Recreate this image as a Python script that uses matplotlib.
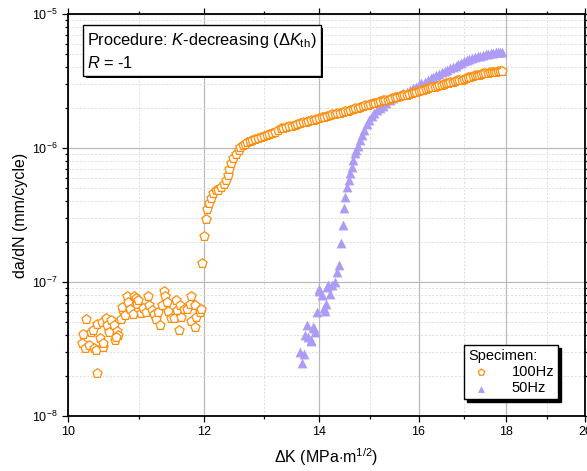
import numpy as np
import matplotlib
matplotlib.use("Agg")
import matplotlib.pyplot as plt
import matplotlib.ticker as mticker
import matplotlib.patheffects as pe

plt.rcParams['font.family'] = ['Liberation Sans', 'DejaVu Sans']
plt.rcParams['mathtext.fontset'] = 'custom'
plt.rcParams['mathtext.rm'] = 'Liberation Sans'
plt.rcParams['mathtext.it'] = 'Liberation Sans:italic'
plt.rcParams['mathtext.bf'] = 'Liberation Sans:bold'

# 100Hz specimen: scattered near-threshold points (da/dN in 1e-8 mm/cycle)
dk_100_low = [10.24, 10.21, 10.19, 10.23, 10.29, 10.32, 10.34, 10.36, 10.38, 10.40,
              10.44, 10.40, 10.48, 10.48, 10.46, 10.53, 10.54, 10.56, 10.60, 10.63,
              10.65, 10.68, 10.70, 10.67, 10.73, 10.76, 10.75, 10.79, 10.82, 10.84,
              10.87, 10.91, 10.93, 10.96, 10.97, 10.99, 11.03, 11.06, 11.10, 11.13,
              11.14, 11.19, 11.22, 11.26, 11.29, 11.32, 11.34, 11.37, 11.39, 11.42,
              11.44, 11.48, 11.52, 11.56, 11.57, 11.60, 11.62, 11.63, 11.68, 11.73,
              11.78, 11.79, 11.80, 11.85, 11.86, 11.88, 11.93, 11.96]
dadn_100_low = [5.3, 4.1, 3.5, 3.2, 3.4, 4.2, 4.4, 3.2, 3.1, 4.9,
                3.8, 2.1, 3.3, 3.5, 5.0, 5.4, 4.8, 4.2, 5.2, 4.8,
                3.7, 4.3, 4.0, 3.9, 5.3, 6.1, 6.5, 5.7, 7.8, 7.1,
                6.3, 5.8, 7.8, 7.6, 6.8, 7.3, 5.9, 6.4, 6.0, 7.8,
                6.7, 6.2, 5.8, 5.3, 6.0, 4.8, 6.7, 8.5, 7.8, 7.1,
                6.1, 5.4, 5.4, 7.4, 6.2, 4.4, 6.7, 5.5, 6.3, 6.3,
                6.9, 7.8, 5.1, 4.6, 6.7, 5.5, 6.0, 6.3]

# 100Hz specimen: transition + Paris region (da/dN in 1e-6 mm/cycle)
dk_100_high = [11.97, 12.00, 12.03, 12.05, 12.08, 12.11, 12.15, 12.19, 12.23, 12.28,
               12.32, 12.36, 12.39, 12.41, 12.44, 12.48, 12.52, 12.57,
               12.60, 12.64, 12.68, 12.72, 12.76, 12.80, 12.85, 12.90, 12.95, 13.00,
               13.05, 13.10, 13.15, 13.20, 13.25, 13.30, 13.35, 13.40, 13.45, 13.50,
               13.55, 13.60, 13.65, 13.70, 13.75, 13.80, 13.85, 13.90, 13.95, 14.00,
               14.05, 14.10, 14.15, 14.20, 14.25, 14.30, 14.35, 14.40, 14.45, 14.50,
               14.55, 14.60, 14.65, 14.70, 14.75, 14.80, 14.85, 14.90, 14.95, 15.00,
               15.05, 15.10, 15.15, 15.20, 15.25, 15.30, 15.35, 15.40, 15.45, 15.50,
               15.55, 15.60, 15.65, 15.70, 15.75, 15.80, 15.85, 15.90, 15.95, 16.00,
               16.05, 16.10, 16.15, 16.20, 16.25, 16.30, 16.35, 16.40, 16.45, 16.50,
               16.55, 16.60, 16.65, 16.70, 16.75, 16.80, 16.85, 16.90, 16.95, 17.00,
               17.05, 17.10, 17.15, 17.20, 17.25, 17.30, 17.35, 17.40, 17.45, 17.50,
               17.55, 17.60, 17.65, 17.70, 17.75, 17.80, 17.85, 17.90]
dadn_100_high = [0.139, 0.220, 0.295, 0.349, 0.387, 0.421, 0.459, 0.486, 0.486, 0.509,
                 0.539, 0.577, 0.629, 0.693, 0.769, 0.838, 0.902, 0.966,
                 1.01, 1.05, 1.08, 1.10, 1.13, 1.15, 1.17, 1.19, 1.20, 1.23,
                 1.26, 1.28, 1.30, 1.32, 1.37, 1.40, 1.41, 1.43, 1.46, 1.47,
                 1.48, 1.51, 1.54, 1.55, 1.56, 1.59, 1.62, 1.63, 1.64, 1.67,
                 1.70, 1.71, 1.72, 1.76, 1.79, 1.80, 1.81, 1.84, 1.87, 1.89,
                 1.90, 1.93, 1.97, 1.98, 2.00, 2.03, 2.06, 2.08, 2.09, 2.13,
                 2.16, 2.18, 2.19, 2.23, 2.27, 2.28, 2.29, 2.33, 2.37, 2.39,
                 2.40, 2.44, 2.48, 2.49, 2.50, 2.55, 2.59, 2.61, 2.62, 2.67,
                 2.71, 2.72, 2.74, 2.78, 2.83, 2.84, 2.86, 2.91, 2.95, 2.97,
                 2.99, 3.04, 3.08, 3.10, 3.11, 3.17, 3.21, 3.23, 3.24, 3.30,
                 3.34, 3.36, 3.38, 3.43, 3.48, 3.50, 3.52, 3.57, 3.60, 3.62,
                 3.63, 3.67, 3.69, 3.70, 3.72, 3.74, 3.76, 3.76]

# 50Hz specimen: near-threshold points (1e-8 mm/cycle)
dk_50_low = [13.68, 13.65, 13.72, 13.77, 13.74, 13.80, 13.85, 13.88, 13.93, 13.96,
             14.01, 14.05, 14.10, 14.13, 14.16, 14.21, 14.24, 14.30, 14.34, 14.39,
             13.90, 14.00, 14.11, 14.18, 13.86]
dadn_50_low = [2.5, 3.0, 2.9, 4.8, 4.0, 3.9, 3.6, 4.6, 4.2, 6.0,
               8.5, 8.0, 6.4, 6.9, 9.2, 8.2, 9.5, 10.0, 11.9, 13.4,
               4.5, 8.9, 6.1, 9.5, 3.7]

# 50Hz specimen: upper branch (1e-6 mm/cycle)
dk_50_high = [14.42, 14.45, 14.48, 14.50, 14.54, 14.57, 14.60, 14.63, 14.66, 14.69,
              14.72, 14.76, 14.80, 14.84, 14.88, 14.93, 14.98, 15.03, 15.08, 15.13,
              15.19, 15.25, 15.32, 15.40, 15.47, 15.54, 15.61, 15.68, 15.75, 15.82,
              15.88, 15.94, 16.00, 16.06, 16.13, 16.20, 16.26, 16.32, 16.38, 16.44,
              16.50, 16.57, 16.63, 16.69, 16.75, 16.82, 16.88, 16.94, 17.01, 17.07,
              17.13, 17.19, 17.26, 17.32, 17.38, 17.45, 17.51, 17.57, 17.63, 17.69,
              17.75, 17.80, 17.85, 17.90]
dadn_50_high = [0.197, 0.266, 0.355, 0.433, 0.514, 0.577, 0.648, 0.725, 0.813, 0.912,
                0.96, 1.04, 1.15, 1.26, 1.37, 1.50, 1.62, 1.72, 1.82, 1.91,
                1.99, 2.07, 2.17, 2.28, 2.37, 2.44, 2.50, 2.57, 2.63, 2.71,
                2.79, 2.87, 2.95, 3.04, 3.13, 3.22, 3.31, 3.40, 3.48, 3.57,
                3.66, 3.75, 3.84, 3.93, 4.02, 4.12, 4.22, 4.33, 4.44, 4.54,
                4.61, 4.68, 4.75, 4.82, 4.88, 4.94, 4.99, 5.04, 5.09, 5.13,
                5.17, 5.20, 5.23, 5.24]

x_ticks = [10, 12, 14, 16, 18, 20]
x_minor = [11, 13, 15, 17, 19]

dk_100 = np.array(dk_100_low + dk_100_high)
dadn_100 = np.concatenate([np.array(dadn_100_low) * 1e-8, np.array(dadn_100_high) * 1e-6])
dk_50 = np.array(dk_50_low + dk_50_high)
dadn_50 = np.concatenate([np.array(dadn_50_low) * 1e-8, np.array(dadn_50_high) * 1e-6])

orange = '#FF8C0A'
purple = '#AE9BF5'

fig = plt.figure(figsize=(5.87, 4.71), dpi=100)
ax = fig.add_axes([0.1158, 0.1168, 0.8808, 0.8535])

ax.scatter(dk_50, dadn_50, marker='^', s=50, color=purple, linewidths=0, label='50Hz', zorder=3)
ax.scatter(dk_100, dadn_100, marker='p', s=48, facecolors='white', edgecolors=orange,
           linewidths=0.9, label='100Hz', zorder=4)

ax.set_xscale('log')
ax.set_yscale('log')
ax.set_xlim(10, 20)
ax.set_ylim(1e-8, 1e-5)

ax.xaxis.set_major_locator(mticker.FixedLocator(x_ticks))
ax.xaxis.set_major_formatter(mticker.FixedFormatter([str(t) for t in x_ticks]))
ax.xaxis.set_minor_locator(mticker.FixedLocator(x_minor))
ax.xaxis.set_minor_formatter(mticker.NullFormatter())
ax.yaxis.set_major_locator(mticker.LogLocator(base=10, numticks=10))
ax.yaxis.set_minor_locator(mticker.LogLocator(base=10, subs=np.arange(2, 10), numticks=20))
ax.yaxis.set_minor_formatter(mticker.NullFormatter())

ax.grid(which='major', color='#b9b9b9', lw=0.9)
ax.grid(which='minor', color='#d9d9d9', lw=0.6, ls=(0, (2.5, 2)))
ax.set_axisbelow(True)

for s in ax.spines.values():
    s.set_linewidth(1.3)
ax.tick_params(which='both', labelsize=9, width=0.9)
ax.tick_params(which='major', length=4)
ax.tick_params(which='minor', length=2.5)
ax.tick_params(which='both', top=True, right=True)

ax.set_xlabel(r'$\Delta$K (MPa$\cdot$m$^{1/2}$)', fontsize=11.5, labelpad=6)
ax.set_ylabel('da/dN (mm/cycle)', fontsize=11.5, labelpad=3)

txt = ax.text(0.037, 0.957, 'Procedure: $K$-decreasing ($\\Delta K_{\\mathrm{th}}$)\n$R$ = -1',
              transform=ax.transAxes, fontsize=11.8, va='top', ha='left', linespacing=1.4,
              bbox=dict(boxstyle='square,pad=0.25', fc='white', ec='black', lw=1.0))
txt.get_bbox_patch().set_path_effects([pe.SimplePatchShadow(offset=(2, -2), shadow_rgbFace='black', alpha=1),
                                       pe.Normal()])

handles, labels = ax.get_legend_handles_labels()
leg = ax.legend(handles[::-1], labels[::-1], title='Specimen:', loc='lower right',
                bbox_to_anchor=(0.948, 0.042), borderaxespad=0, fontsize=10.5, title_fontsize=10.5,
                fancybox=False, framealpha=1, edgecolor='black', alignment='left',
                markerscale=0.7, handletextpad=1.2, borderpad=0.25, labelspacing=0.15,
                handlelength=1.8, shadow={'color': 'black', 'alpha': 1, 'ox': 2, 'oy': -2})
leg.get_frame().set_linewidth(1.0)

fig.savefig('out.png', dpi=100)
